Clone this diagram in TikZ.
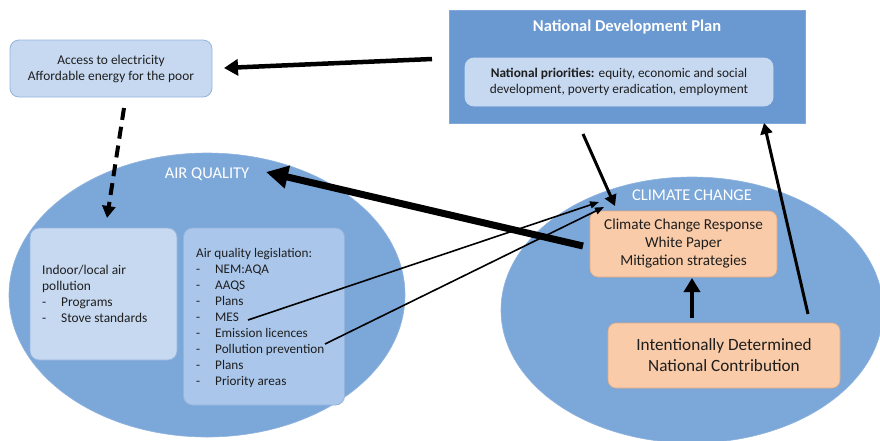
\documentclass[tikz,border=0pt]{standalone}
\usepackage{fontspec}
\setmainfont{Carlito}
\usetikzlibrary{arrows.meta,shapes.geometric}
\definecolor{ellfill}{RGB}{124,167,217}
\definecolor{ndpfill}{RGB}{106,153,210}
\definecolor{lightbox}{RGB}{198,217,241}
\definecolor{legbox}{RGB}{170,199,235}
\definecolor{boxedge}{RGB}{149,180,220}
\definecolor{peach}{RGB}{249,203,168}
\definecolor{peachedge}{RGB}{226,170,130}
\definecolor{txt}{RGB}{30,30,30}
\tikzset{
  ell/.style={ellipse, fill=ellfill, draw=ellfill!85!white, line width=0.6pt, inner sep=0pt},
  rbox/.style={rectangle, rounded corners=9pt, draw=boxedge, line width=0.8pt, inner sep=0pt},
  pbox/.style={rectangle, rounded corners=8pt, fill=peach, draw=peachedge, line width=0.6pt, inner sep=0pt},
  lbl/.style={inner sep=0pt, text=txt, font=\fontsize{13.4}{16}\selectfont},
  wlbl/.style={inner sep=0pt, text=white, font=\fontsize{16.5}{18}\selectfont},
  bigarrow/.style={line width=4.5pt, -{Triangle[length=14pt,width=16pt]}},
  medarrow/.style={line width=3pt, -{Triangle[length=11pt,width=12pt]}},
  thinarrow/.style={line width=1.6pt, -{Triangle[length=9pt,width=7pt]}},
  hugearrow/.style={line width=7pt, -{Triangle[length=22pt,width=22pt]}},
  dasharrow/.style={line width=4pt, dash pattern=on 12pt off 7pt, -{Triangle[length=12pt,width=13pt]}}
}
\newcommand{\itm}[1]{\makebox[19pt][l]{-}#1}
\begin{document}
\begin{tikzpicture}[x=1pt,y=-1pt]
\useasboundingbox (0,0) rectangle (880,440);
% ellipses
\node[ell, minimum width=396pt, minimum height=284pt] (aq) at (207,295) {};
\node[ell, minimum width=382pt, minimum height=266pt] (cc) at (692,310) {};
\node[wlbl] (aqt) at (207,174) {AIR QUALITY};
\node[wlbl] (cct) at (692,195) {CLIMATE CHANGE};
% access box
\node[rbox, fill=lightbox, minimum width=202pt, minimum height=57pt] (acc) at (111,68.5) {};
\node[lbl, align=center] (acct) at (111,68.5) {Access to electricity\\Affordable energy for the poor};
% NDP
\node[rectangle, fill=ndpfill, draw=ndpfill!85!white, line width=0.6pt, minimum width=356pt, minimum height=113pt, inner sep=0pt] (ndp) at (627,66.5) {};
\node[wlbl, font=\bfseries\fontsize{16.5}{18}\selectfont] (ndpt) at (627,27) {National Development Plan};
\node[rbox, fill=lightbox, draw=lightbox, minimum width=308pt, minimum height=48pt] (pri) at (619,82) {};
\node[lbl, align=center, font=\fontsize{13.3}{16}\selectfont] (prit) at (619,82) {\textbf{National priorities:} equity, economic and social\\development, poverty eradication, employment};
% indoor box
\node[rbox, fill=lightbox, minimum width=147pt, minimum height=132pt] (ind) at (103.5,294) {};
\node[lbl, align=left, anchor=north west] (indt) at (42,265) {Indoor/local air\\pollution\\\itm{Programs}\\\itm{Stove standards}};
% legislation box
\node[rbox, fill=legbox, minimum width=161pt, minimum height=177pt] (leg) at (264,316.5) {};
\node[lbl, align=left, anchor=north west, font=\fontsize{13.2}{16}\selectfont] (legt) at (196,248) {Air quality legislation:\\\itm{NEM:AQA}\\\itm{AAQS}\\\itm{Plans}\\\itm{MES}\\\itm{Emission licences}\\\itm{Pollution prevention}\\\itm{Plans}\\\itm{Priority areas}};
% CCR box
\node[pbox, minimum width=187pt, minimum height=66pt] (ccr) at (683.5,244) {};
\node[lbl, align=center, font=\fontsize{15.2}{18}\selectfont] (ccrt) at (683.5,244) {Climate Change Response\\White Paper\\Mitigation strategies};
% INDC box
\node[pbox, minimum width=232pt, minimum height=65pt] (indc) at (724,355.5) {};
\node[lbl, align=center, font=\fontsize{17.2}{21}\selectfont] (indct) at (724,355.5) {Intentionally Determined\\National Contribution};
% connector endpoints
\coordinate (s1) at (432,59);
\coordinate (e1) at (224,68);
\coordinate (s2) at (124,108);
\coordinate (e2) at (107,218);
\coordinate (s3) at (583,134);
\coordinate (e3) at (615,206);
\coordinate (s4) at (808,314);
\coordinate (e4) at (764,123);
\coordinate (s5) at (583,246);
\coordinate (e5) at (266,172);
\coordinate (s6) at (248,320);
\coordinate (e6) at (599,202);
\coordinate (s7) at (325,344);
\coordinate (e7) at (604,207);
\coordinate (s8) at (692,318);
\coordinate (e8) at (692,278);
% connectors
\draw[bigarrow] (s1) -- (e1);
\draw[dasharrow] (s2) -- (e2);
\draw[medarrow] (s3) -- (e3);
\draw[medarrow] (s4) -- (e4);
\draw[hugearrow] (s5) -- (e5);
\draw[thinarrow] (s6) -- (e6);
\draw[thinarrow] (s7) -- (e7);
\draw[bigarrow] (s8) -- (e8);
\end{tikzpicture}
\end{document}
